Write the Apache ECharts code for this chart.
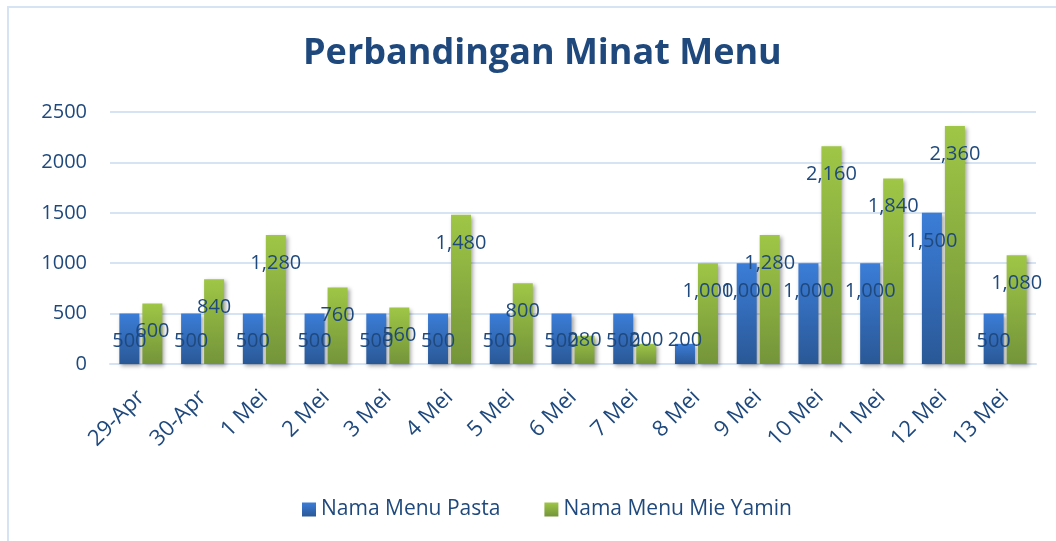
<!DOCTYPE html>
<html>
<head>
<meta charset="utf-8">
<script src="https://cdn.jsdelivr.net/npm/echarts@6/dist/echarts.min.js"></script>
<style>
  html, body { margin: 0; padding: 0; background: #ffffff; }
  #frame {
    position: absolute; left: 7px; top: 6px; width: 1100px; height: 600px;
    border-top: 2px solid #d6e3f3; border-left: 2px solid #d6e3f3;
  }
  #chart { position: absolute; left: 0; top: 0; width: 1056px; height: 541px; }
</style>
</head>
<body>
<div id="frame"></div>
<div id="chart"></div>
<script>
// data
const categories = ['29-Apr', '30-Apr', '1 Mei', '2 Mei', '3 Mei', '4 Mei', '5 Mei', '6 Mei',
  '7 Mei', '8 Mei', '9 Mei', '10 Mei', '11 Mei', '12 Mei', '13 Mei'];
const pasta = [500, 500, 500, 500, 500, 500, 500, 500, 500, 200, 1000, 1000, 1000, 1500, 500];
const mieYamin = [600, 840, 1280, 760, 560, 1480, 800, 280, 200, 1000, 1280, 2160, 1840, 2360, 1080];
const seriesNames = ['Nama Menu Pasta', 'Nama Menu Mie Yamin'];

const font = 'Open Sans';
const textColor = '#1f497d';

// short bars get their label near the bottom instead of the top
function withLabels(values) {
  return values.map(function (v) {
    if (v < 400) {
      return { value: v, label: { position: 'insideBottom', distance: 14 } };
    }
    return v;
  });
}

function grad(top, bottom) {
  return new echarts.graphic.LinearGradient(0, 0, 0, 1, [
    { offset: 0, color: top },
    { offset: 1, color: bottom }
  ]);
}

const barLabel = {
  show: true,
  position: 'insideTop',
  distance: 18,
  color: textColor,
  fontFamily: font,
  fontSize: 20,
  formatter: function (p) {
    return p.value.toLocaleString('en-US');
  }
};

const myChart = echarts.init(document.getElementById('chart'));
const option = {
  animation: false,
  backgroundColor: 'transparent',
  title: {
    text: 'Perbandingan Minat Menu',
    left: 298,
    top: 31,
    textStyle: { fontFamily: font, fontWeight: 'bold', fontSize: 36, color: textColor }
  },
  legend: {
    bottom: 16,
    left: 297,
    itemWidth: 14,
    itemHeight: 14,
    itemGap: 44,
    icon: 'rect',
    textStyle: { fontFamily: font, fontSize: 21, color: textColor }
  },
  grid: { left: 110, right: 20, top: 112, bottom: 177 },
  xAxis: {
    type: 'category',
    data: categories,
    axisLine: { lineStyle: { color: '#d6e3f3', width: 2 } },
    axisTick: { show: false },
    axisLabel: {
      rotate: 45,
      margin: 30,
      color: textColor,
      fontFamily: font,
      fontSize: 22
    }
  },
  yAxis: {
    type: 'value',
    min: 0,
    max: 2500,
    interval: 500,
    axisLine: { show: false },
    axisTick: { show: false },
    splitLine: { lineStyle: { color: '#d6e3f3', width: 2 } },
    axisLabel: {
      margin: 23,
      color: textColor,
      fontFamily: font,
      fontSize: 20,
      formatter: function (v) { return String(v); }
    }
  },
  series: [
    {
      name: seriesNames[0],
      type: 'bar',
      data: withLabels(pasta),
      barWidth: 20,
      barGap: '15%',
      itemStyle: {
        color: grad('#3b7dd8', '#2a5896'),
        shadowColor: 'rgba(0,0,0,0.35)',
        shadowBlur: 4,
        shadowOffsetX: 2,
        shadowOffsetY: 2
      },
      label: barLabel
    },
    {
      name: seriesNames[1],
      type: 'bar',
      data: withLabels(mieYamin),
      barWidth: 20,
      itemStyle: {
        color: grad('#9fc646', '#74943a'),
        shadowColor: 'rgba(0,0,0,0.35)',
        shadowBlur: 4,
        shadowOffsetX: 2,
        shadowOffsetY: 2
      },
      label: barLabel
    }
  ]
};
myChart.setOption(option);
</script>
</body>
</html>
